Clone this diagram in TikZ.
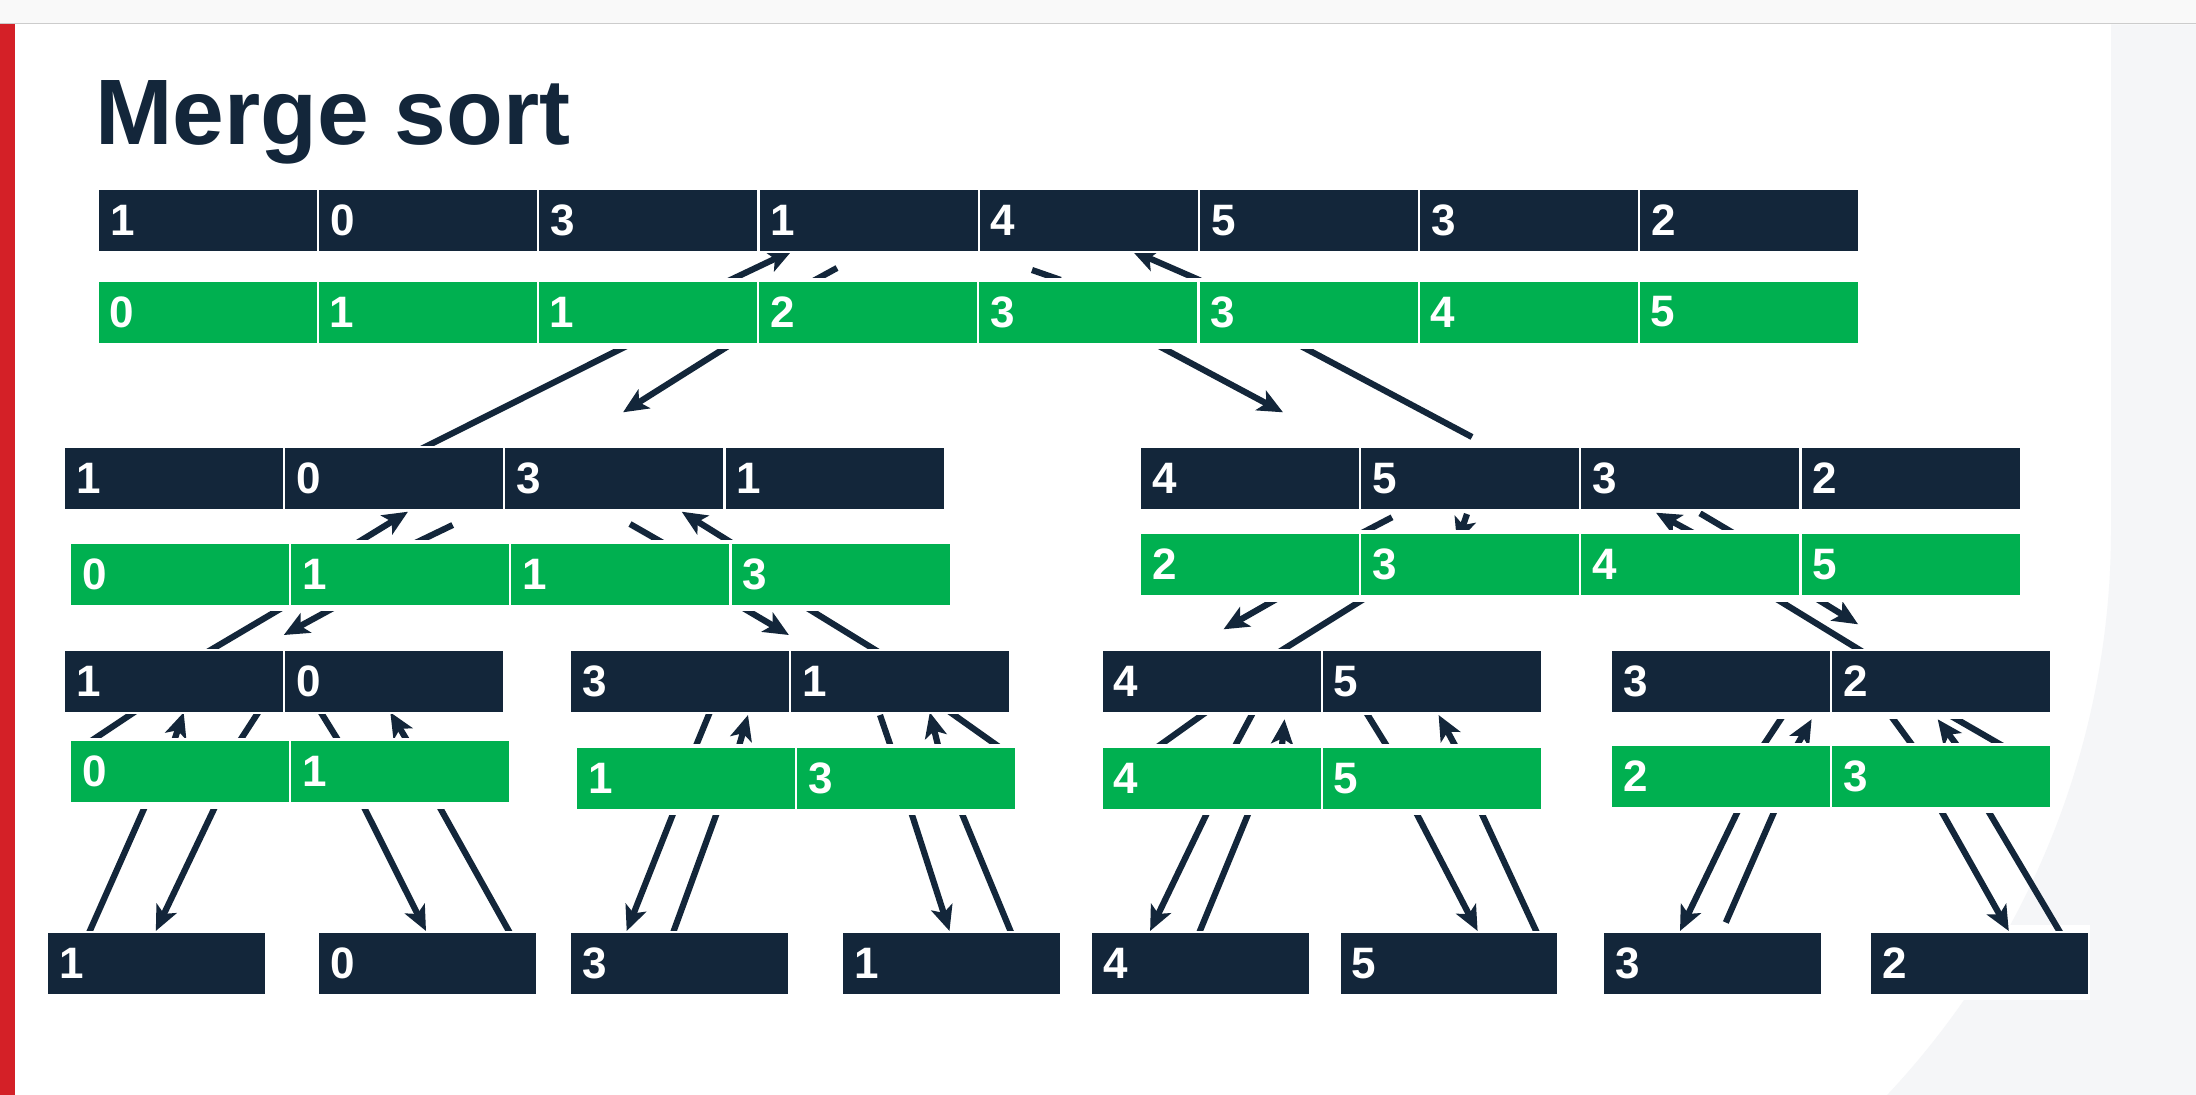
\documentclass[tikz,border=0pt]{standalone}
\usepackage{fontspec}
\setmainfont{Liberation Sans}
\usetikzlibrary{arrows.meta}
\definecolor{inkblue}{HTML}{13263A}
\definecolor{sortgreen}{HTML}{00B050}
\definecolor{barred}{HTML}{D42027}
\definecolor{panelgray}{HTML}{F5F6F8}
\definecolor{toolgray}{HTML}{F9F9F9}

\begin{document}
\begin{tikzpicture}[x=1pt, y=-1pt,
		cell/.style={rectangle, draw=white, line width=2pt, anchor=north west, minimum height=63pt, text width=196pt, inner xsep=12pt, inner ysep=0pt, align=left, text=white, font=\fontsize{44}{48}\selectfont\bfseries},
		leaf/.style={cell, fill=inkblue, text width=194.5pt},
		link/.style={draw=inkblue, line width=6.2pt},
		ar/.style={link, shorten <=-8pt, -{Stealth[length=25pt, width=22pt, inset=6pt]}},
		ar0/.style={link, -{Stealth[length=25pt, width=22pt, inset=6pt]}},
		cut1/.style={link, shorten <=-8pt},
		cut2/.style={link, shorten <=-8pt, shorten >=-8pt}]
	\useasboundingbox (0,0) rectangle (2196,1095);
	\fill[white] (0,0) rectangle (2196,1095);
	% window chrome
	\fill[toolgray] (0,0) rectangle (2196,23);
	\draw[black!20, line width=1.5pt] (0,23.5) -- (2196,23.5);
	\fill[panelgray] (2111,24.3) -- (2111,530) arc[start angle=0, end angle=43.22, radius=825] -- (2196,1095) -- (2196,24.3) -- cycle;
	\fill[white] (1860,925) rectangle (2090,1000);
	\fill[barred] (0,24.3) rectangle (15,1095);
	\node[anchor=base west, inner sep=0pt, text=inkblue, font=\fontsize{93}{100}\selectfont\bfseries] (title) at (95,144) {Merge sort};

	% arrows first, the boxes cover them
	\begin{scope}
		\clip (0,250.7) rectangle (2196,277.3);
		\draw[ar] (736,277.3) -- (792,250.7);
		\draw[cut1] (820,277.3) -- (837,268);
		\draw[cut1] (1053,277.3) -- (1032,270);
		\draw[ar] (1193,277.3) -- (1132,250.7);
	\end{scope}
	\begin{scope}
		\clip (0,349.3) rectangle (2196,446);
		\draw[cut2] (427,446) -- (620,349.3);
		\draw[ar] (723,349.3) -- (623,412.3);
		\draw[ar] (1165,349.3) -- (1283,412.3);
		\draw[cut1] (1307,349.3) -- (1472,437);
	\end{scope}
	\begin{scope}
		\clip (0,509) rectangle (1000,539.3);
		\draw[ar] (363,539.3) -- (408,511.7);
		\draw[cut1] (423,539.3) -- (452.7,525);
		\draw[cut1] (656.7,539.3) -- (630,524);
		\draw[ar] (726,539.3) -- (681.7,511.7);
	\end{scope}
	\begin{scope}
		\clip (1100,509) rectangle (2100,529.3);
		\draw[cut1] (1369,529.3) -- (1392,517.3);
		\draw[ar0] (1467,514) -- (1457,543);
		\draw[ar] (1686.5,529.3) -- (1656,512.7);
		\draw[cut1] (1727,529.3) -- (1700,513.3);
	\end{scope}
	\begin{scope}
		\clip (0,611.7) rectangle (1050,649);
		\draw[cut2] (275.5,611.7) -- (212.4,649);
		\draw[ar] (326.5,611.7) -- (283.8,635);
		\draw[ar] (749.4,611.7) -- (788.9,635);
		\draw[cut2] (813.1,611.7) -- (873.7,649);
	\end{scope}
	\begin{scope}
		\clip (1100,602.3) rectangle (2100,649);
		\draw[ar] (1270.8,602.3) -- (1223.5,629.3);
		\draw[cut2] (1358.5,602.3) -- (1283.8,649);
		\draw[cut2] (1781.9,602.3) -- (1858.1,649);
		\draw[ar] (1822.3,602.3) -- (1858.1,624.3);
	\end{scope}
	\begin{scope}
		\clip (0,712.3) rectangle (540,737);
		\draw[cut2] (97,737) -- (134,712.3);
		\draw[ar] (175.4,737) -- (183.7,712.3);
		\draw[cut2] (242.3,737) -- (258.3,712.3);
		\draw[cut2] (336.1,737) -- (320.8,712.3);
		\draw[ar] (405,737) -- (390.3,712.3);
	\end{scope}
	\begin{scope}
		\clip (560,712.3) rectangle (1050,743.3);
		\draw[cut2] (697,743.3) -- (709.8,712.3);
		\draw[ar] (739.8,743.3) -- (748,715);
		\draw[cut1] (889.7,743.3) -- (880,715);
		\draw[ar] (937.5,743.3) -- (929.8,712.3);
		\draw[cut2] (994,743.3) -- (950.3,712.3);
	\end{scope}
	\begin{scope}
		\clip (1090,715) rectangle (1560,743.3);
		\draw[cut2] (1162.5,743.3) -- (1202.1,715);
		\draw[cut2] (1236.5,743.3) -- (1251.7,715);
		\draw[ar] (1282.2,743.3) -- (1284.5,719.3);
		\draw[cut2] (1385.2,743.3) -- (1367.7,715);
		\draw[ar] (1453.9,743.3) -- (1438.6,715);
	\end{scope}
	\begin{scope}
		\clip (1600,719.3) rectangle (2100,742);
		\draw[cut2] (1765.6,742) -- (1780.6,719.3);
		\draw[ar] (1798.8,742) -- (1811.6,719.3);
		\draw[cut2] (1910,742) -- (1893.4,719.3);
		\draw[ar] (1954.5,742) -- (1937.7,719.3);
		\draw[cut2] (1996,742) -- (1956.7,719.3);
	\end{scope}
	\begin{scope}
		\clip (0,809) rectangle (560,931);
		\draw[cut2] (143.9,809) -- (89.8,931);
		\draw[ar] (214,809) -- (155.8,931);
		\draw[ar] (364.9,809) -- (426,931);
		\draw[cut2] (440.7,809) -- (508.8,931);
	\end{scope}
	\begin{scope}
		\clip (560,815.7) rectangle (1580,931);
		\draw[ar] (672.3,815.7) -- (626.7,931);
		\draw[cut2] (715.8,815.7) -- (673.7,931);
		\draw[ar] (912.3,815.7) -- (949.5,931);
		\draw[cut2] (962.8,815.7) -- (1010.5,931);
		\draw[ar] (1205.7,815.7) -- (1150.1,931);
		\draw[cut2] (1247.4,815.7) -- (1199.9,931);
		\draw[ar] (1417.7,815.7) -- (1477.6,931);
		\draw[cut2] (1482.7,815.7) -- (1536.1,931);
	\end{scope}
	\begin{scope}
		\clip (1600,813.3) rectangle (2100,931);
		\draw[ar] (1736.8,813.3) -- (1680,931);
		\draw[cut1] (1773.5,813.3) -- (1725.8,922.5);
		\draw[ar] (1942.6,813.3) -- (2008.8,931);
		\draw[cut2] (1989.6,813.3) -- (2059.3,931);
	\end{scope}

	% the arrays
	\foreach \nm/\col/\x/\y/\vals in {
			topd/inkblue/97/187.7/{1,0,3,1,4,5,3,2},
			topg/sortgreen/96.5/279.5/{0,1,1,2,3,3,4,5},
			ld/inkblue/63/446/{1,0,3,1},
			lg/sortgreen/69/542/{0,1,1,3},
			rd/inkblue/1139/446/{4,5,3,2},
			rg/sortgreen/1139/532/{2,3,4,5},
			lld/inkblue/63/649/{1,0},
			llg/sortgreen/69/739/{0,1},
			lrd/inkblue/569/649/{3,1},
			lrg/sortgreen/575/746/{1,3},
			rld/inkblue/1100.7/649/{4,5},
			rlg/sortgreen/1100.7/746/{4,5},
			rrd/inkblue/1610/649/{3,2},
			rrg/sortgreen/1610/744/{2,3}}
		\foreach \v [count=\i from 0] in \vals
			\node[cell, fill=\col] (\nm\i) at ({\x+220.2*\i}, \y) {\v};
	\foreach \x/\v [count=\i] in {46.3/1, 317.2/0, 569/3, 841/1, 1090/4, 1338.7/5, 1602/3, 1869.4/2}
		\node[leaf] (leaf\i) at (\x, 931) {\v};
\end{tikzpicture}
\end{document}
